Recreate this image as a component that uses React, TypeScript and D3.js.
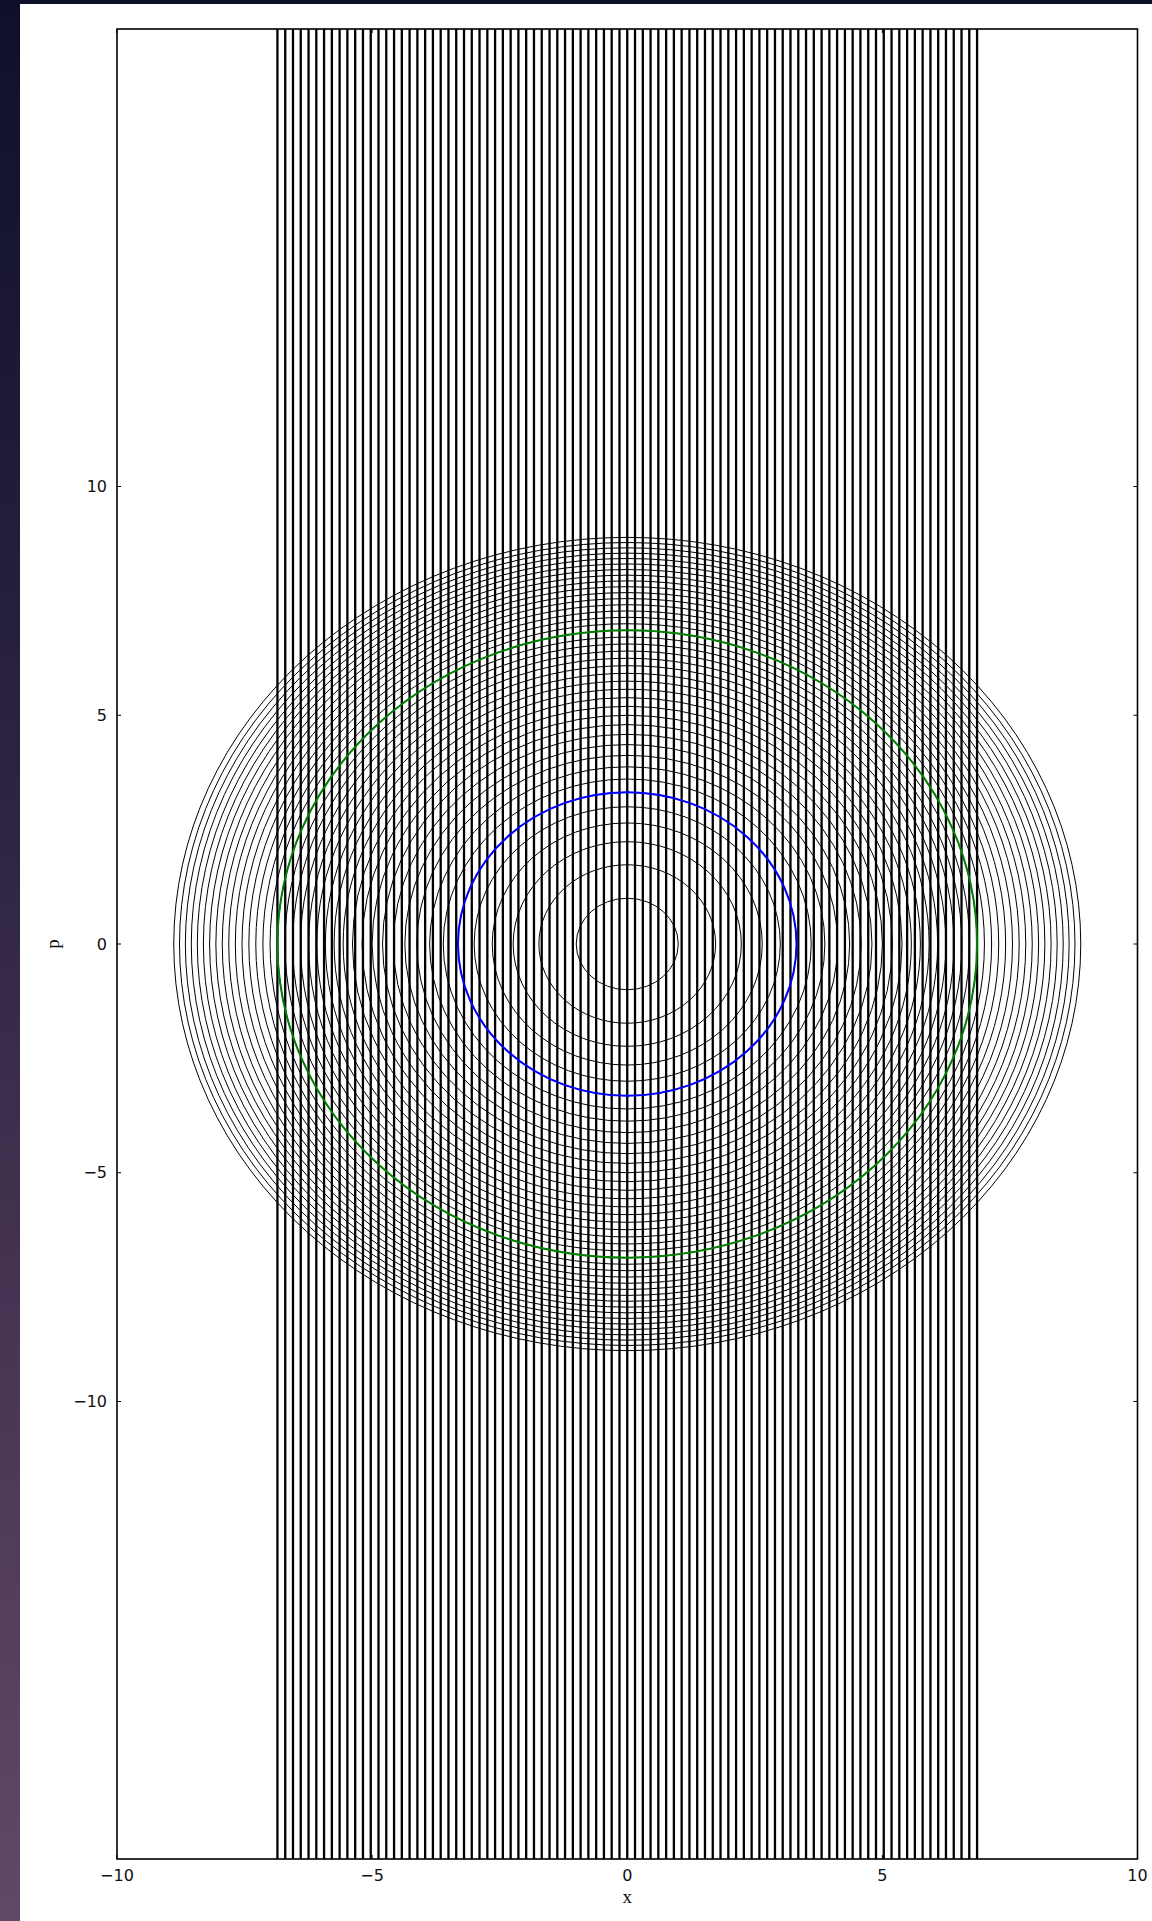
import React from 'react';
import * as d3 from 'd3';

// grid of position samples (vertical lines)
const gridX = [
  -6.856, -6.703, -6.551, -6.399, -6.246, -6.094, -5.942, -5.789, -5.637, -5.485,
  -5.332, -5.180, -5.027, -4.875, -4.723, -4.570, -4.418, -4.266, -4.113, -3.961,
  -3.809, -3.656, -3.504, -3.352, -3.199, -3.047, -2.895, -2.742, -2.590, -2.438,
  -2.285, -2.133, -1.981, -1.828, -1.676, -1.523, -1.371, -1.219, -1.066, -0.914,
  -0.762, -0.609, -0.457, -0.305, -0.152, 0, 0.152, 0.305, 0.457, 0.609,
  0.762, 0.914, 1.066, 1.219, 1.371, 1.523, 1.676, 1.828, 1.981, 2.133,
  2.285, 2.438, 2.590, 2.742, 2.895, 3.047, 3.199, 3.352, 3.504, 3.656,
  3.809, 3.961, 4.113, 4.266, 4.418, 4.570, 4.723, 4.875, 5.027, 5.180,
  5.332, 5.485, 5.637, 5.789, 5.942, 6.094, 6.246, 6.399, 6.551, 6.703, 6.856,
];

// phase-space orbit radii
const orbitRadii = [
  1.0, 1.732, 2.236, 2.646, 3.0, 3.317, 3.606, 3.873, 4.123, 4.359,
  4.583, 4.796, 5.0, 5.196, 5.385, 5.568, 5.745, 5.916, 6.083, 6.245,
  6.403, 6.557, 6.708, 6.856, 7.0, 7.141, 7.28, 7.416, 7.55, 7.681,
  7.81, 7.937, 8.062, 8.185, 8.307, 8.426, 8.544, 8.66, 8.775, 8.888,
];

const highlighted = [
  { r: 3.317, color: 'blue' },
  { r: 6.856, color: 'green' },
];

const xTicks = [-10, -5, 0, 5, 10];
const yTicks = [-10, -5, 0, 5, 10];

const W = 1132;
const H = 1917;
const margin = { left: 97, top: 25, right: 14.5, bottom: 62 };

const fmt = (v: number) => (v < 0 ? '\u2212' + Math.abs(v) : String(v));

export default function App() {
  const x = d3.scaleLinear().domain([-10, 10]).range([margin.left, W - margin.right]);
  const y = d3.scaleLinear().domain([-20, 20]).range([H - margin.bottom, margin.top]);
  const x0 = x(0);
  const y0 = y(0);
  const top = y(20);
  const bottom = y(-20);
  const left = x(-10);
  const right = x(10);

  const tickFont = '"DejaVu Sans", sans-serif';

  return (
    <div
      style={{
        position: 'absolute',
        left: 0,
        top: 0,
        width: 1152,
        height: 1921,
        background: 'linear-gradient(to bottom, #0e1029 0%, #2c2340 40%, #624868 100%)',
        overflow: 'hidden',
      }}
    >
      <svg
        width={W}
        height={H}
        style={{ position: 'absolute', left: 20, top: 4, background: '#fff' }}
      >
        <defs>
          <clipPath id="plot">
            <rect x={left} y={top} width={right - left} height={bottom - top} />
          </clipPath>
        </defs>
        <g clipPath="url(#plot)">
          {gridX.map((v, i) => (
            <line key={i} x1={x(v)} x2={x(v)} y1={top} y2={bottom} stroke="#000" strokeWidth={2.3} />
          ))}
          {orbitRadii.map((r, i) => (
            <ellipse
              key={i}
              cx={x0}
              cy={y0}
              rx={x(r) - x0}
              ry={y0 - y(r)}
              fill="none"
              stroke="#000"
              strokeWidth={1}
            />
          ))}
          {highlighted.map((h, i) => (
            <ellipse
              key={i}
              cx={x0}
              cy={y0}
              rx={x(h.r) - x0}
              ry={y0 - y(h.r)}
              fill="none"
              stroke={h.color}
              strokeWidth={2}
            />
          ))}
        </g>
        <rect x={left} y={top} width={right - left} height={bottom - top} fill="none" stroke="#000" strokeWidth={1.6} />
        {xTicks.map((t) => (
          <g key={'x' + t}>
            <line x1={x(t)} x2={x(t)} y1={bottom} y2={bottom - 4} stroke="#000" />
            <line x1={x(t)} x2={x(t)} y1={top} y2={top + 4} stroke="#000" />
            <text x={x(t)} y={bottom + 22} textAnchor="middle" fontFamily={tickFont} fontSize={16} fill="#111">
              {fmt(t)}
            </text>
          </g>
        ))}
        {yTicks.map((t) => (
          <g key={'y' + t}>
            <line x1={left} x2={left + 4} y1={y(t)} y2={y(t)} stroke="#000" />
            <line x1={right} x2={right - 4} y1={y(t)} y2={y(t)} stroke="#000" />
            <text x={left - 10} y={y(t)} dy="0.35em" textAnchor="end" fontFamily={tickFont} fontSize={16} fill="#111">
              {fmt(t)}
            </text>
          </g>
        ))}
        <text x={x0} y={bottom + 44} textAnchor="middle" fontFamily='"Liberation Serif", serif' fontSize={19} fill="#111">
          x
        </text>
        <text
          transform={`translate(${33},${y0}) rotate(-90)`}
          textAnchor="middle"
          dy="0.3em"
          fontFamily='"Liberation Serif", serif'
          fontSize={19}
          fill="#111"
        >
          p
        </text>
      </svg>
    </div>
  );
}
